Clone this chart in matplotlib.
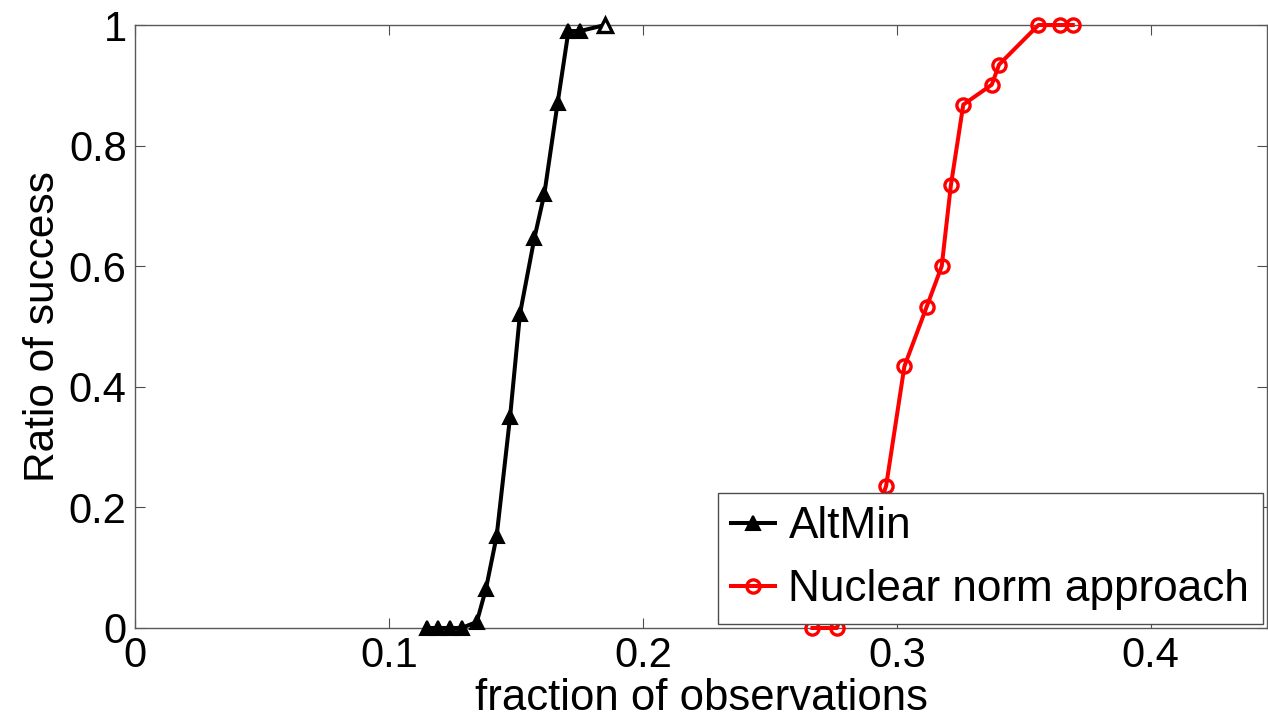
import matplotlib
matplotlib.use("Agg")
import matplotlib.pyplot as plt

plt.rcParams['font.family'] = ['Liberation Sans', 'DejaVu Sans']

# AltMin curve
altmin_x = [0.1148, 0.1194, 0.1240, 0.1286, 0.1346, 0.1382, 0.1424, 0.1477,
            0.1516, 0.1573, 0.1612, 0.1664, 0.1707, 0.1753, 0.1851]
altmin_y = [0.0, 0.0, 0.0, 0.0, 0.01, 0.065, 0.152, 0.35,
            0.521, 0.647, 0.72, 0.87, 0.99, 0.99, 1.0]

# Nuclear norm approach curve
nuc_x = [0.2668, 0.2764, 0.2958, 0.3030, 0.3118, 0.3177, 0.3213,
         0.3262, 0.3374, 0.3403, 0.3558, 0.3643, 0.3693]
nuc_y = [0.0, 0.0, 0.2355, 0.434, 0.533, 0.600, 0.734,
         0.868, 0.901, 0.9345, 1.0, 1.0, 1.0]

xticks = [0, 0.1, 0.2, 0.3, 0.4]
xtick_labels = ['0', '0.1', '0.2', '0.3', '0.4']
yticks = [0, 0.2, 0.4, 0.6, 0.8, 1.0]
ytick_labels = ['0', '0.2', '0.4', '0.6', '0.8', '1']

fig = plt.figure(figsize=(12.68, 7.21), dpi=100)
ax = fig.add_axes([0.1065, 0.129, 0.8927, 0.8363])

ax.plot(altmin_x, altmin_y, '-^', color='black', lw=2.9, ms=10,
        mfc='black', mec='black', mew=1.5, markevery=slice(0, -1),
        clip_on=False, label='AltMin', zorder=3)
ax.plot(altmin_x[-1:], altmin_y[-1:], '^', color='black', ms=10,
        mfc='white', mec='black', mew=2.4, clip_on=False, zorder=3)
ax.plot(nuc_x, nuc_y, '-o', color='red', lw=2.9, ms=9.5,
        mfc='none', mec='red', mew=2.4, clip_on=False,
        label='Nuclear norm approach', zorder=3)

ax.set_xlim(0, 0.4458)
ax.set_ylim(0, 1)
ax.set_xticks(xticks)
ax.set_xticklabels(xtick_labels)
ax.set_yticks(yticks)
ax.set_yticklabels(ytick_labels)
ax.tick_params(direction='in', length=7, width=0.8, color='0.3',
               top=True, right=True, labelsize=30, pad=6)
for s in ax.spines.values():
    s.set_color('0.35')
    s.set_linewidth(1.0)

ax.set_xlabel('fraction of observations', fontsize=31.5, labelpad=1)
ax.set_ylabel('Ratio of success', fontsize=30.5, labelpad=4)

leg = ax.legend(loc='lower right', fontsize=31.8, frameon=True, fancybox=False,
                edgecolor='0.3', framealpha=1.0, borderaxespad=0.1,
                handlelength=1.0, handletextpad=0.3, borderpad=0.3,
                labelspacing=0.5)
leg.get_frame().set_linewidth(1.0)
leg.set_zorder(5)

fig.savefig('out.png', dpi=100)
